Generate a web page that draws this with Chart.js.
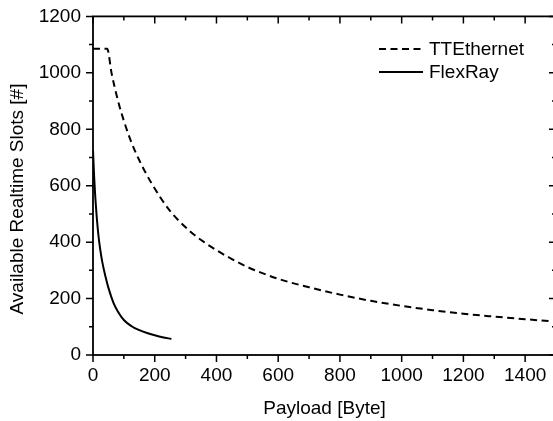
<!DOCTYPE html>
<html>
<head>
<meta charset="utf-8">
<script src="https://cdn.jsdelivr.net/npm/chart.js@4.4.1/dist/chart.umd.min.js"></script>
<style>
html, body { margin: 0; padding: 0; background: #fff; overflow: hidden; }
#wrap { width: 560px; height: 421px; }
</style>
</head>
<body>
<div id="wrap"><canvas id="grafico" width="560" height="421"></canvas></div>
<script>
// payload [byte] -> available realtime slots
var tteX = [0, 46, 60, 80, 100, 125, 150, 190, 250, 315, 360, 405, 450, 500, 600, 700, 800, 900, 1000, 1100, 1200, 1300, 1400, 1500];
var tteY = [1085, 1085, 1000, 905, 830, 752, 690, 608, 510, 438, 400, 368, 340, 312, 270, 240, 214, 192, 174, 159, 146, 136, 127, 118];
var frX = [0, 4, 8, 12, 18, 24, 30, 40, 50, 66, 80, 100, 125, 150, 175, 200, 225, 254];
var frY = [726, 625, 550, 490, 420, 370, 330, 280, 238, 186, 155, 124, 102, 88, 78, 70, 63, 57];
var seriesNames = ["TTEthernet", "FlexRay"];
var axisTitles = ["Payload [Byte]", "Available Realtime Slots [#]"];
var xRange = [0, 1500], yRange = [0, 1200];
var xMajor = 200, xMinor = 100, yMajor = 200, yMinor = 100;

var fontName = "'Liberation Sans', Arial, sans-serif";

function pts(xs, ys) {
    return xs.map(function (x, i) { return { x: x, y: ys[i] }; });
}

var marcos = {
    id: 'marcos',
    afterDraw: function (chart) {
        var ctx = chart.ctx, a = chart.chartArea;
        var sx = chart.scales.x, sy = chart.scales.y;
        ctx.save();
        ctx.strokeStyle = '#000';
        ctx.lineWidth = 1.8;
        ctx.strokeRect(a.left, a.top, a.right - a.left, a.bottom - a.top);

        // ticks: outward on left/bottom, inward on top/right
        ctx.lineWidth = 1.5;
        ctx.beginPath();
        for (var v = xRange[0]; v <= xRange[1]; v += xMinor) {
            var px = sx.getPixelForValue(v);
            var len = v % xMajor === 0 ? 7 : 4;
            ctx.moveTo(px, a.bottom); ctx.lineTo(px, a.bottom + len);
            ctx.moveTo(px, a.top); ctx.lineTo(px, a.top + len);
        }
        for (var w = yRange[0]; w <= yRange[1]; w += yMinor) {
            var py = sy.getPixelForValue(w);
            var l2 = w % yMajor === 0 ? 7 : 4;
            ctx.moveTo(a.left, py); ctx.lineTo(a.left - l2, py);
            ctx.moveTo(a.right, py); ctx.lineTo(a.right - l2, py);
        }
        ctx.stroke();

        ctx.fillStyle = '#000';
        ctx.font = '19px ' + fontName;

        // y title
        ctx.save();
        ctx.translate(17.5, 199);
        ctx.rotate(-Math.PI / 2);
        ctx.textAlign = 'center';
        ctx.textBaseline = 'middle';
        ctx.fillText(axisTitles[1], 0, 0);
        ctx.restore();

        // legend
        ctx.textAlign = 'left';
        ctx.textBaseline = 'middle';
        chart.data.datasets.forEach(function (ds, i) {
            var y = 49 + i * 23;
            ctx.setLineDash(ds.borderDash || []);
            ctx.lineWidth = ds.borderWidth;
            ctx.beginPath();
            ctx.moveTo(379, y);
            ctx.lineTo(423, y);
            ctx.stroke();
            ctx.setLineDash([]);
            ctx.fillText(ds.label, 429, y + 1);
        });
        ctx.restore();
    }
};

function plain(v) { return String(v); }

new Chart(document.getElementById("grafico"), {
    type: 'line',
    data: {
        datasets: [
            {
                label: seriesNames[0],
                data: pts(tteX, tteY),
                borderColor: '#000',
                borderWidth: 2,
                borderDash: [7, 4.5],
                pointRadius: 0,
                fill: false,
                cubicInterpolationMode: 'monotone'
            },
            {
                label: seriesNames[1],
                data: pts(frX, frY),
                borderColor: '#000',
                borderWidth: 2,
                pointRadius: 0,
                fill: false,
                cubicInterpolationMode: 'monotone'
            }
        ]
    },
    options: {
        responsive: false,
        animation: false,
        layout: { padding: { top: 16, right: 4, left: 0, bottom: 0 } },
        plugins: { legend: { display: false }, tooltip: { enabled: false } },
        scales: {
            x: {
                type: 'linear',
                min: xRange[0], max: xRange[1],
                afterFit: function (s) { s.height = 66; },
                grid: { display: true, drawOnChartArea: false, color: 'rgba(0,0,0,0)', tickLength: 7 },
                border: { display: false },
                ticks: {
                    stepSize: xMajor, includeBounds: false, padding: 2, color: '#000',
                    maxRotation: 0, autoSkip: false, callback: plain,
                    font: { family: fontName, size: 19 }
                },
                title: {
                    display: true, text: axisTitles[0], color: '#000',
                    font: { family: fontName, size: 19 },
                    padding: { top: 0, bottom: 1 }
                }
            },
            y: {
                min: yRange[0], max: yRange[1],
                afterFit: function (s) { s.width = 93; },
                grid: { display: true, drawOnChartArea: false, color: 'rgba(0,0,0,0)', tickLength: 7 },
                border: { display: false },
                ticks: {
                    stepSize: yMajor, includeBounds: false, padding: 5, color: '#000',
                    callback: plain,
                    font: { family: fontName, size: 19 }
                }
            }
        }
    },
    plugins: [marcos]
});
</script>
</body>
</html>
